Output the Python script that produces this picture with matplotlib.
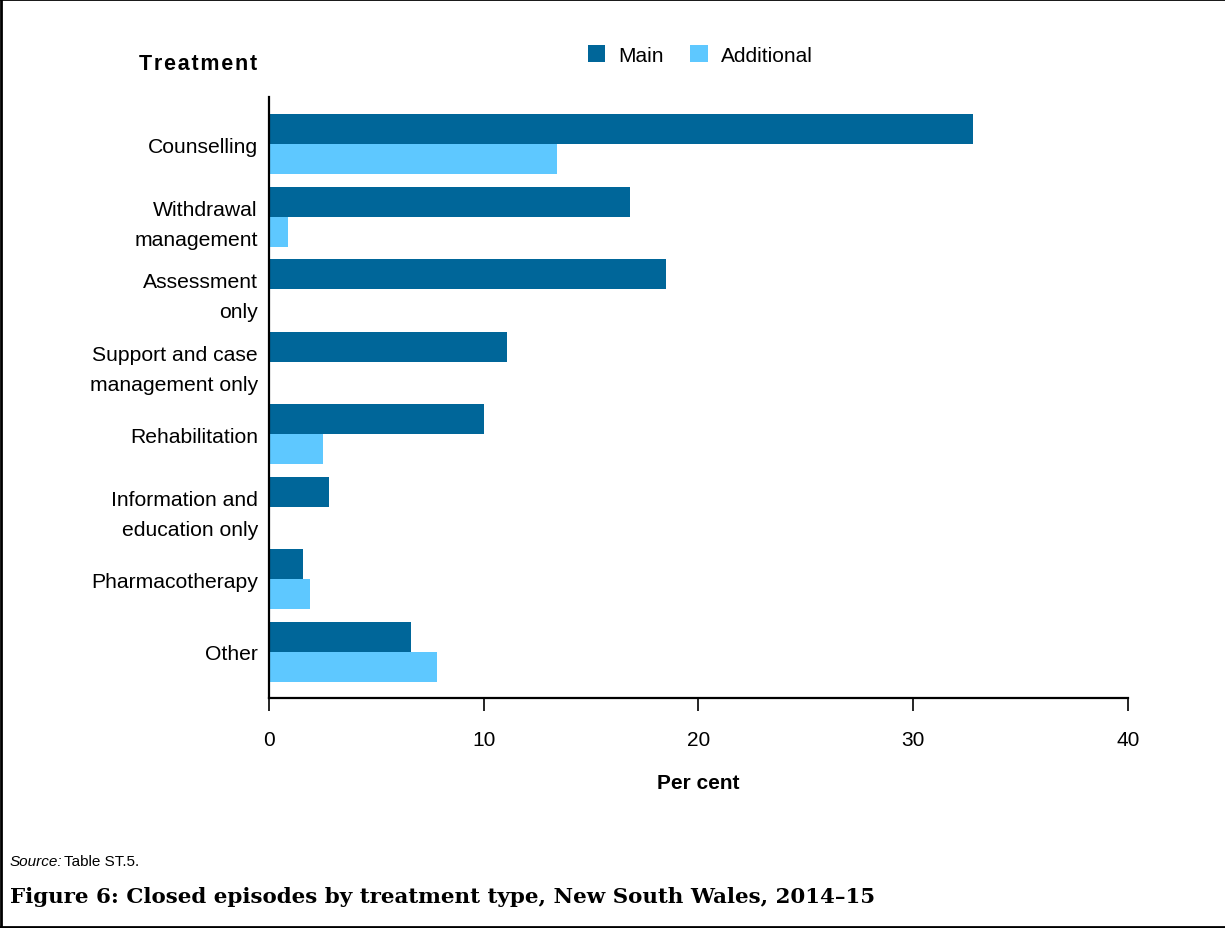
import numpy as np
import matplotlib
matplotlib.use("Agg")
import matplotlib.pyplot as plt
from matplotlib.lines import Line2D
from matplotlib.patches import Patch

plt.rcParams['font.family'] = ['Liberation Sans', 'DejaVu Sans']

categories = [
    "Counselling",
    "Withdrawal\nmanagement",
    "Assessment\nonly",
    "Support and case\nmanagement only",
    "Rehabilitation",
    "Information and\neducation only",
    "Pharmacotherapy",
    "Other",
]
main_pct = [32.8, 16.8, 18.5, 11.1, 10.0, 2.8, 1.6, 6.6]
additional_pct = [13.4, 0.9, 0.0, 0.0, 2.5, 0.0, 1.9, 7.8]
x_ticks = [0, 10, 20, 30, 40]

MAIN_COLOR = "#006699"
ADD_COLOR = "#5EC8FF"

fig = plt.figure(figsize=(12.25, 9.29), dpi=100)
ax = fig.add_axes([0.2196, 0.2476, 0.7012, 0.6469])

y = np.arange(len(categories))
h = 0.413
ax.barh(y - h / 2, main_pct, height=h, color=MAIN_COLOR, label="Main")
ax.barh(y + h / 2, additional_pct, height=h, color=ADD_COLOR, label="Additional")

ax.set_ylim(len(categories) - 1 + 0.64, -0.65)
ax.set_xlim(0, 40)
ax.set_xticks(x_ticks)
ax.set_xticklabels([str(t) for t in x_ticks], fontsize=15)
ax.set_yticks(y)
ax.set_yticklabels(categories, fontsize=15.2, linespacing=1.75)
for lbl in ax.get_yticklabels():
    lbl.set_y(lbl.get_position()[1])
ax.tick_params(axis='y', length=0, pad=8)
ax.tick_params(axis='x', direction='out', length=9, width=1.2, pad=14)

for side in ("top", "right"):
    ax.spines[side].set_visible(False)
for side in ("left", "bottom"):
    ax.spines[side].set_linewidth(1.6)

ax.set_xlabel("Per cent", fontsize=15, fontweight='bold', labelpad=17)

fig.text(257 / 1225, 1 - 65 / 929, "T r e a t m e n t".replace(" ", "\u200a"),
         ha='right', va='center', fontsize=15.5, fontweight='bold')

handles = [Patch(facecolor=MAIN_COLOR, label="Main"),
           Patch(facecolor=ADD_COLOR, label="Additional")]
fig.legend(handles=handles, loc='center', bbox_to_anchor=(700 / 1225, 1 - 56 / 929),
           ncol=2, frameon=False, fontsize=15, handlelength=0.85, handleheight=0.85,
           handletextpad=0.6, columnspacing=1.3)

fig.text(10 / 1225, 1 - 862 / 929, "Source:", ha='left', va='center',
         fontsize=11, style='italic')
fig.text(64 / 1225, 1 - 862 / 929, "Table ST.5.", ha='left', va='center',
         fontsize=11)
fig.text(10 / 1225, 1 - 897 / 929,
         "Figure 6: Closed episodes by treatment type, New South Wales, 2014\u201315",
         ha='left', va='center', fontsize=15.4, fontweight='bold',
         family=['DejaVu Serif'])

# frame around the figure (top, left, bottom)
for xs, ys in (([0, 1], [0.9995, 0.9995]), ([0.0008, 0.0008], [0, 1]),
               ([0, 1], [0.0015, 0.0015])):
    fig.add_artist(Line2D(xs, ys, transform=fig.transFigure, color='black', lw=2))

fig.savefig("out.png", dpi=100)
